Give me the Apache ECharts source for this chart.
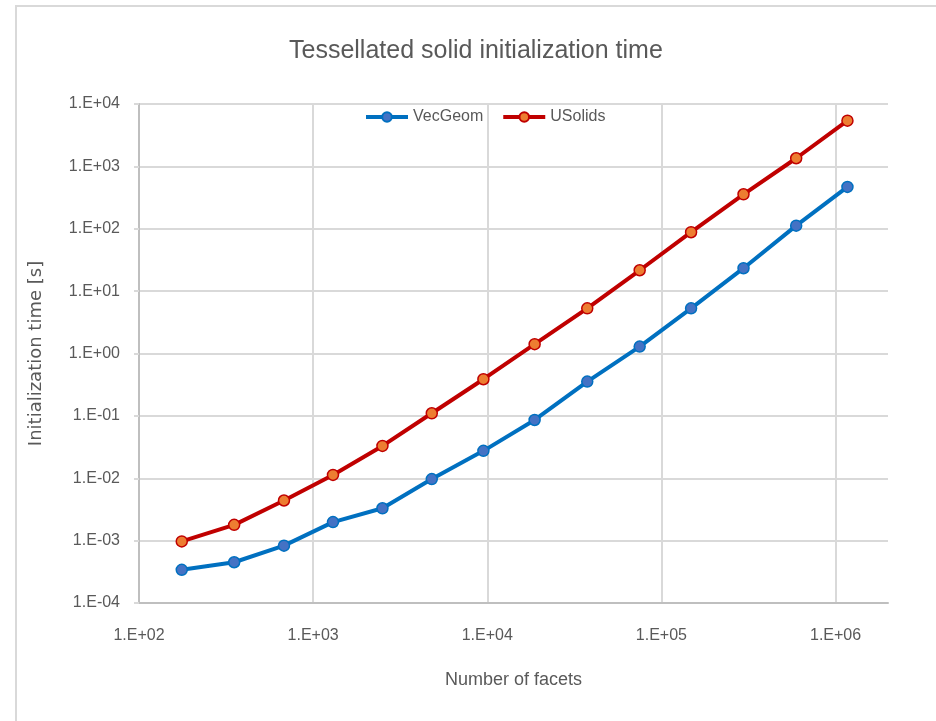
<!DOCTYPE html>
<html>
<head>
<meta charset="utf-8">
<script src="https://cdn.jsdelivr.net/npm/echarts@6/dist/echarts.min.js"></script>
<style>html,body{margin:0;padding:0;background:#fff;}#main{width:936px;height:721px;}</style>
</head>
<body>
<div id="main"></div>
<script>
const facets = [176, 352, 680, 1300, 2500, 4800, 9500, 18700, 37500, 75000, 148000, 296000, 594000, 1170000];
const vecGeom = [3.4e-4, 4.5e-4, 8.3e-4, 1.98e-3, 3.3e-3, 9.7e-3, 0.0275, 0.086, 0.355, 1.29, 5.3, 23.3, 112, 468];
const uSolids = [9.7e-4, 1.79e-3, 4.4e-3, 0.0113, 0.033, 0.110, 0.387, 1.41, 5.3, 21.6, 88, 357, 1350, 5400];
const seriesNames = ['VecGeom', 'USolids'];
const titleText = 'Tessellated solid initialization time';
const xName = 'Number of facets';
const yName = 'Initialization time [s]';

function sci(v) {
  const e = Math.round(Math.log10(v));
  const s = e < 0 ? '-' : '+';
  const a = Math.abs(e);
  return '1.E' + s + (a < 10 ? '0' : '') + a;
}
const sans = '"Liberation Sans", Arial, sans-serif';
const chart = echarts.init(document.getElementById('main'), null, {renderer: 'canvas'});
chart.setOption({
  backgroundColor: '#fff',
  animation: false,
  graphic: [{
    type: 'rect', shape: {x: 16, y: 6, width: 940, height: 740},
    style: {fill: 'none', stroke: '#D9D9D9', lineWidth: 2}, z: -1
  }],
  title: {
    text: titleText, left: 284, top: 34,
    textStyle: {fontFamily: sans, fontSize: 25, fontWeight: 'normal', color: '#595959'}
  },
  legend: {
    left: 364, top: 109, padding: 0, itemWidth: 42, itemHeight: 12, itemGap: 18,
    textStyle: {fontFamily: sans, fontSize: 16, color: '#595959'},
    lineStyle: {width: 4},
    data: seriesNames
  },
  grid: {left: 139, right: 48, top: 104, bottom: 118},
  xAxis: {
    type: 'log', logBase: 10, min: 100, max: 2000000,
    name: xName, nameLocation: 'middle', nameGap: 68,
    nameTextStyle: {fontFamily: sans, fontSize: 18, color: '#595959'},
    axisLine: {show: true, lineStyle: {color: '#BFBFBF', width: 2}},
    axisTick: {show: false},
    axisLabel: {fontFamily: sans, fontSize: 16, color: '#595959', margin: 25, formatter: sci, showMaxLabel: false},
    splitLine: {show: true, lineStyle: {color: ['#D9D9D9', '#D9D9D9', '#D9D9D9', '#D9D9D9', '#D9D9D9', 'rgba(0,0,0,0)'], width: 2}}
  },
  yAxis: {
    type: 'log', logBase: 10, min: 1e-4, max: 1e4,
    name: yName, nameLocation: 'middle', nameGap: 94, nameRotate: 90,
    nameTextStyle: {fontFamily: '"DejaVu Sans", sans-serif', fontSize: 18, color: '#595959'},
    axisLine: {show: true, lineStyle: {color: '#BFBFBF', width: 2}},
    axisTick: {show: true, length: 5, lineStyle: {color: '#D9D9D9', width: 2}},
    axisLabel: {fontFamily: sans, fontSize: 16, color: '#595959', margin: 19, formatter: sci},
    splitLine: {show: true, lineStyle: {color: '#D9D9D9', width: 2}}
  },
  series: [{
    name: seriesNames[0], type: 'line',
    data: facets.map((f, i) => [f, vecGeom[i]]),
    symbol: 'circle', symbolSize: 11,
    lineStyle: {color: '#0070C0', width: 4},
    itemStyle: {color: '#4472C4', borderColor: '#0070C0', borderWidth: 1.5},
    z: 3
  }, {
    name: seriesNames[1], type: 'line',
    data: facets.map((f, i) => [f, uSolids[i]]),
    symbol: 'circle', symbolSize: 11,
    lineStyle: {color: '#C00000', width: 4},
    itemStyle: {color: '#ED7D31', borderColor: '#C00000', borderWidth: 1.5},
    z: 4
  }]
});
</script>
</body>
</html>
